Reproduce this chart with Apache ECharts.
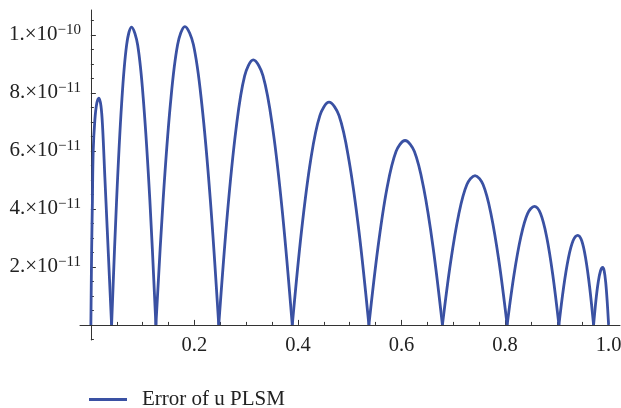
<!DOCTYPE html>
<html><head><meta charset="utf-8">
<script src="https://cdn.jsdelivr.net/npm/echarts@6/dist/echarts.min.js"></script>
<style>html,body{margin:0;padding:0;background:#fff}#c{width:621px;height:408px}</style>
</head><body><div id="c"></div>
<script>
const seriesName = 'Error of u PLSM';
// error curve, y in units of 1e-11
const errX = [
  0, 0.0015, 0.003, 0.0045, 0.0077, 0.0115, 0.0155, 0.0195, 0.0226, 0.027, 0.0315, 0.036, 0.040,
  0.0497, 0.0593, 0.0690, 0.0786, 0.0904, 0.1021, 0.1139, 0.1256,
  0.1396, 0.1536, 0.1676, 0.1816, 0.1980, 0.2143, 0.2307, 0.247,
  0.2637, 0.2804, 0.2970, 0.3137, 0.3325, 0.3514, 0.3702, 0.389,
  0.4068, 0.4245, 0.4423, 0.460, 0.4793, 0.4985, 0.5178, 0.537,
  0.5545, 0.5719, 0.5894, 0.6068, 0.6249, 0.6429, 0.6610, 0.679,
  0.6948, 0.7105, 0.7263, 0.742, 0.7575, 0.773, 0.7885, 0.804,
  0.8172, 0.8304, 0.8435, 0.8567, 0.8685, 0.8804, 0.8922, 0.904,
  0.9131, 0.9222, 0.9313, 0.9404, 0.9481, 0.9557, 0.9634, 0.971,
  0.9754, 0.9799, 0.9843, 0.9887, 0.9915, 0.9944, 0.9972, 1.0
];
const errY = [
  0, 2.6, 4.3, 6.0, 7.07, 7.65, 7.82, 7.55, 6.84, 5.1, 3.34, 1.57, 0,
  4.31, 7.60, 9.65, 10.27, 9.65, 7.60, 4.31, 0,
  4.32, 7.61, 9.67, 10.29, 9.67, 7.61, 4.32, 0,
  3.84, 6.76, 8.59, 9.14, 8.59, 6.76, 3.84, 0,
  3.23, 5.68, 7.22, 7.68, 7.22, 5.68, 3.23, 0,
  2.67, 4.71, 5.98, 6.36, 5.98, 4.71, 2.67, 0,
  2.16, 3.81, 4.84, 5.15, 4.84, 3.81, 2.16, 0,
  1.72, 3.03, 3.84, 4.09, 3.84, 3.03, 1.72, 0,
  1.30, 2.29, 2.90, 3.09, 2.90, 2.29, 1.30, 0,
  0.83, 1.47, 1.86, 1.98, 1.86, 1.47, 0.83, 0
];
const xTickValues = [0.2, 0.4, 0.6, 0.8, 1.0];
const xMinorTicks = [0.05, 0.1, 0.15, 0.25, 0.3, 0.35, 0.45, 0.5, 0.55, 0.65, 0.7, 0.75, 0.85, 0.9, 0.95];
const yTickValues = [2, 4, 6, 8, 10];
const yMinorTicks = [-0.5, 0.5, 1, 1.5, 2.5, 3, 3.5, 4.5, 5, 5.5, 6.5, 7, 7.5, 8.5, 9, 9.5, 10.5];

const lineColor = '#3a51a3';
const axisColor = '#333';
const font = 'Liberation Serif';

const lobes = [];
let cur = [[errX[0], errY[0]]];
for (let i = 1; i < errX.length; i++) {
  cur.push([errX[i], errY[i]]);
  if (errY[i] === 0) { lobes.push(cur); cur = [[errX[i], errY[i]]]; }
}

const X_MIN = -0.021, X_MAX = 1.022, Y_MIN = -0.52, Y_MAX = 10.86;

function yLabel(v) {
  const n = Math.round(v);
  if (n === 10) return '{m|1.×10}{s|−10}';
  return '{m|' + n + '.×10}{s|−11}';
}

const chart = echarts.init(document.getElementById('c'), null, {renderer: 'canvas'});
chart.setOption({
  animation: false,
  backgroundColor: '#fff',
  grid: {left: 80, top: 10, width: 540, height: 330, containLabel: false, outerBoundsMode: 'none'},
  legend: {
    data: [{name: seriesName, icon: 'rect'}],
    left: 84, top: 384,
    itemWidth: 38, itemHeight: 3,
    textStyle: {fontFamily: font, fontSize: 21, color: '#222', padding: [0, 0, 0, 10]}
  },
  xAxis: [{
    type: 'value', min: X_MIN, max: X_MAX,
    axisLine: {show: true, onZero: true, lineStyle: {color: axisColor, width: 1}},
    axisTick: {show: true, inside: true, length: 5, customValues: xTickValues, lineStyle: {color: axisColor}},
    axisLabel: {show: true, customValues: xTickValues, margin: -5, fontFamily: font, fontSize: 20.5, color: '#222',
      formatter: v => v.toFixed(1)},
    splitLine: {show: false}
  }, {
    type: 'value', min: X_MIN, max: X_MAX, position: 'bottom',
    axisLine: {show: false, onZero: true},
    axisTick: {show: true, inside: true, length: 3, customValues: xMinorTicks, lineStyle: {color: axisColor}},
    axisLabel: {show: false},
    splitLine: {show: false}
  }],
  yAxis: [{
    type: 'value', min: Y_MIN, max: Y_MAX,
    axisLine: {show: true, onZero: true, lineStyle: {color: axisColor, width: 1}},
    axisTick: {show: true, inside: true, length: 5, customValues: yTickValues, lineStyle: {color: axisColor}},
    axisLabel: {show: true, customValues: yTickValues, margin: -1, formatter: yLabel,
      rich: {
        m: {fontFamily: font, fontSize: 21, color: '#222', lineHeight: 24},
        s: {fontFamily: font, fontSize: 15, color: '#222', lineHeight: 15, verticalAlign: 'top'}
      }},
    splitLine: {show: false}
  }, {
    type: 'value', min: Y_MIN, max: Y_MAX, position: 'left',
    axisLine: {show: false, onZero: true},
    axisTick: {show: true, inside: true, length: 3, customValues: yMinorTicks, lineStyle: {color: axisColor}},
    axisLabel: {show: false},
    splitLine: {show: false}
  }],
  series: lobes.map(d => ({
    type: 'line', name: seriesName, data: d, xAxisIndex: 0, yAxisIndex: 0,
    smooth: 0.35, showSymbol: false, symbol: 'none', silent: true,
    lineStyle: {color: lineColor, width: 2.8},
    itemStyle: {color: lineColor}
  }))
});
</script></body></html>
